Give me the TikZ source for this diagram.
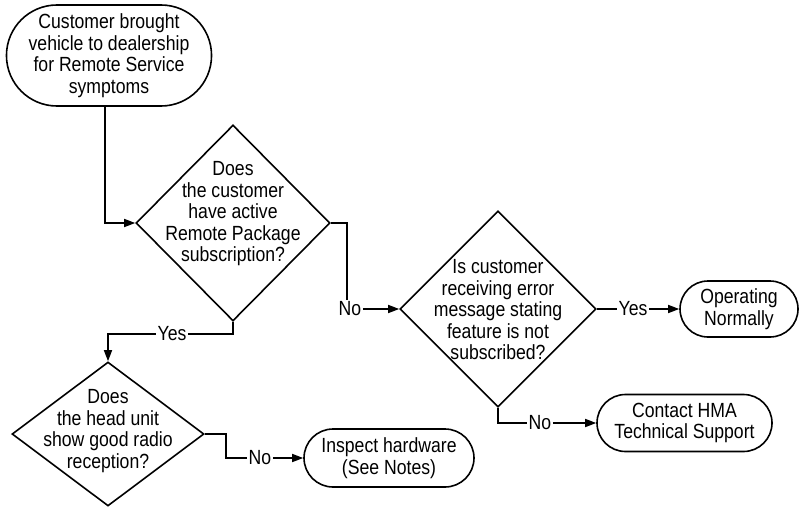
\documentclass[tikz,border=0pt]{standalone}
\usepackage{fontspec}
\setmainfont[FakeStretch=0.86]{Liberation Sans}
\usetikzlibrary{shapes.geometric,shapes.misc,arrows.meta}
\begin{document}
\begin{tikzpicture}[x=1pt,y=-1pt,
  every node/.style={font=\fontsize{20.5}{21.5}\selectfont},
  dia/.style={draw, line width=1.6pt, shape=diamond, inner sep=0pt},
  term/.style={draw, line width=1.6pt, rounded rectangle, inner sep=0pt, align=center},
  txt/.style={align=center, inner sep=0pt},
  lab/.style={inner sep=1.5pt},
  conn/.style={line width=1.6pt},
  arr/.style={conn, -{Triangle[length=11pt,width=8pt]}}
]
\useasboundingbox (0,0) rectangle (799,508);

% terminals
\node[term, minimum width=202pt, minimum height=101pt] (start) at (109,55.5)
  {Customer brought\\vehicle to dealership\\for Remote Service\\symptoms};
\node[term, minimum width=118pt, minimum height=56pt] (op) at (739,309)
  {Operating\\Normally};
\node[term, minimum width=175pt, minimum height=57pt] (hma) at (684.5,423)
  {Contact HMA\\Technical Support};
\node[term, minimum width=170pt, minimum height=58pt] (insp) at (389,458)
  {Inspect hardware\\(See Notes)};

% decisions
\node[dia, minimum width=194pt, minimum height=196pt] (d1) at (233,223) {};
\node[txt] (d1t) at (233,214)
  {Does\\the customer\\have active\\Remote Package\\subscription?};
\node[dia, minimum width=196pt, minimum height=196pt] (d2) at (498,309) {};
\node[txt] (d2t) at (498,310)
  {Is customer\\receiving error\\message stating\\feature is not\\subscribed?};
\node[dia, minimum width=192pt, minimum height=144pt] (d3) at (108,434) {};
\node[txt] (d3t) at (108,431)
  {Does\\the head unit\\show good radio\\reception?};

% labels
\node[lab] (no1) at (350,309) {No};
\node[lab] (yes1) at (172,334) {Yes};
\node[lab] (yes2) at (633,309) {Yes};
\node[lab] (no2) at (540,423) {No};
\node[lab] (no3) at (260,458) {No};

% connectors
\draw[arr] ([xshift=-4pt]start.south) |- (d1.west);
\draw[conn] (d1.east) -| ([xshift=-3pt]no1.north);
\draw[arr] (no1.east) -- (d2.west);
\draw[conn] (d1.south) |- (yes1.east);
\draw[arr] (yes1.west) -| (d3.north);
\draw[conn] (d3.east) -- ++(21,0) |- (no3.west);
\draw[arr] (no3.east) -- (insp.west);
\draw[conn] (d2.east) -- (yes2.west);
\draw[arr] (yes2.east) -- (op.west);
\draw[conn] (d2.south) |- (no2.west);
\draw[arr] (no2.east) -- (hma.west);
\end{tikzpicture}
\end{document}
